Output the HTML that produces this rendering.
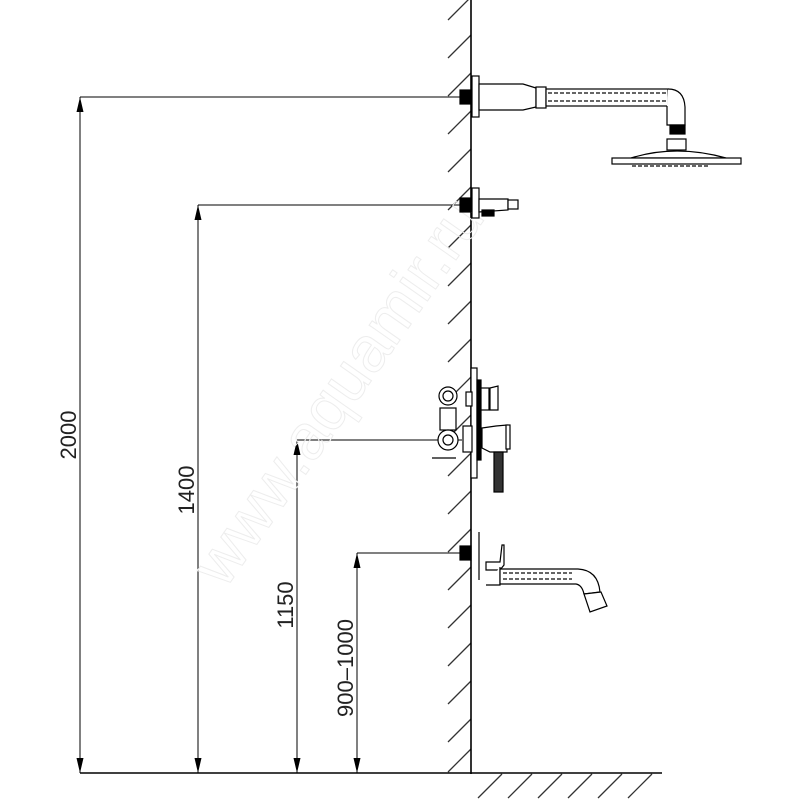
<!DOCTYPE html>
<html><head><style>html,body{margin:0;background:#fff}svg{display:block}</style></head><body>
<svg width="800" height="800" viewBox="0 0 800 800" xmlns="http://www.w3.org/2000/svg" font-family="Liberation Sans, sans-serif">
<g stroke="#333" stroke-width="1.3" fill="none">
<path d="M448 20 L471 -3 M448 58 L471 35 M448 96 L471 73 M448 134 L471 111 M448 172 L471 149 M448 210 L471 187 M448 248 L471 225 M448 286 L471 263 M448 324 L471 301 M448 362 L471 339 M448 400 L471 377 M448 438 L471 415 M448 476 L471 453 M448 514 L471 491 M448 552 L471 529 M448 590 L471 567 M448 628 L471 605 M448 666 L471 643 M448 704 L471 681 M448 742 L471 719 M448 772 L471 749"/>
<path d="M478 798 L502 774 M508 798 L532 774 M538 798 L562 774 M568 798 L592 774 M598 798 L622 774 M628 798 L652 774"/>
</g>
<line x1="471" y1="0" x2="471" y2="774" stroke="#000" stroke-width="1.6"/>
<line x1="80" y1="773" x2="662" y2="773" stroke="#000" stroke-width="1.6"/>
<g stroke="#000" stroke-width="1">
<line x1="80" y1="97" x2="465" y2="97"/>
<line x1="80" y1="97" x2="80" y2="773"/>
<line x1="198" y1="205" x2="465" y2="205"/>
<line x1="198" y1="205" x2="198" y2="773"/>
<line x1="297" y1="440" x2="462" y2="440"/>
<line x1="297" y1="440" x2="297" y2="773"/>
<line x1="357" y1="553" x2="465" y2="553"/>
<line x1="357" y1="553" x2="357" y2="773"/>
</g>
<g fill="#000">
<path d="M80 97 L76.5 112 L83.5 112 Z M80 773 L76.5 758 L83.5 758 Z"/>
<path d="M198 205 L194.5 220 L201.5 220 Z M198 773 L194.5 758 L201.5 758 Z"/>
<path d="M297 440 L293.5 455 L300.5 455 Z M297 773 L293.5 758 L300.5 758 Z"/>
<path d="M357 553 L353.5 568 L360.5 568 Z M357 773 L353.5 758 L360.5 758 Z"/>
</g>
<g font-size="22" fill="#222" text-anchor="middle">
<text transform="translate(76,435) rotate(-90)">2000</text>
<text transform="translate(194,490) rotate(-90)">1400</text>
<text transform="translate(293,605) rotate(-90)">1150</text>
<text transform="translate(353,668) rotate(-90)">900–1000</text>
</g>
<text transform="translate(225,590) rotate(-55)" font-size="64" fill="none" stroke="#ededed" stroke-width="1">www.aquamir.ru</text>
<g stroke="#000" stroke-width="1.2" fill="#fff">
<rect x="460" y="90" width="11" height="14" fill="#000"/>
<rect x="472" y="76" width="7" height="41"/>
<path d="M479 84 L523 84 L536 88 L536 107 L523 110 L479 110 Z"/>
<rect x="536" y="87" width="10" height="21"/>
<rect x="546" y="89" width="122" height="17"/>
<path d="M668 89 Q684 89 685 107 L685 125 L667 125 L667 106"/>
<rect x="670" y="125" width="15" height="9" fill="#000"/>
<rect x="667" y="139" width="19" height="11"/>
<path d="M631 158 Q676 144 726 158 Z"/>
<rect x="612" y="158" width="129" height="6"/>
</g>
<g stroke="#333" stroke-width="1.5" fill="none" stroke-dasharray="4 2">
<line x1="548" y1="93" x2="666" y2="93"/><line x1="548" y1="101" x2="666" y2="101"/>
<line x1="632" y1="166" x2="710" y2="166"/>
</g>
<g stroke="#000" stroke-width="1.2" fill="#fff">
<rect x="460" y="198" width="11" height="14" fill="#000"/>
<rect x="472" y="188" width="7" height="30"/>
<path d="M479 199 L508 199 L508 210 L479 212 Z"/>
<rect x="508" y="200" width="10" height="9"/>
<rect x="482" y="210" width="12" height="6" fill="#000"/>
</g>
<g stroke="#000" stroke-width="1.2" fill="#fff">
<circle cx="448" cy="396" r="9"/><circle cx="448" cy="396" r="5"/>
<rect x="440" y="408" width="16" height="22"/>
<circle cx="448" cy="440" r="10"/><circle cx="448" cy="440" r="5"/>
<rect x="471" y="368" width="6" height="110"/>
<rect x="477" y="380" width="4" height="80" fill="#000"/>
<rect x="466" y="392" width="6" height="14"/>
<rect x="481" y="388" width="8" height="22"/>
<path d="M490 388 L498 386 L498 410 L490 410 Z"/>
<rect x="463" y="426" width="9" height="26"/>
<path d="M482 428 L496 426 L507 425 L507 452 L490 452 L482 448 Z"/>
<rect x="506" y="425" width="4" height="24"/>
<rect x="494" y="452" width="9" height="40" fill="#333"/>
<line x1="432" y1="458" x2="456" y2="458"/>
</g>
<g stroke="#000" stroke-width="1.2" fill="#fff">
<rect x="460" y="546" width="11" height="14" fill="#000"/>
<line x1="479" y1="532" x2="479" y2="580"/>
<path d="M486 562 L500 562 L502 545 L504 545 L504 565 L500 570 L486 570 Z"/>
<path d="M486 585 L500 585 L500 567"/>
<path d="M500 569 L578 569 Q598 570 600 592 L584 594 Q582 585 576 584 L500 584 Z"/>
<path d="M584 594 L601 592 L607 606 L590 612 Z"/>
</g>
<g stroke="#333" stroke-width="1.5" fill="none" stroke-dasharray="4 2">
<line x1="503" y1="573" x2="572" y2="573"/><line x1="503" y1="579" x2="572" y2="579"/>
</g>
</svg>
</body></html>
